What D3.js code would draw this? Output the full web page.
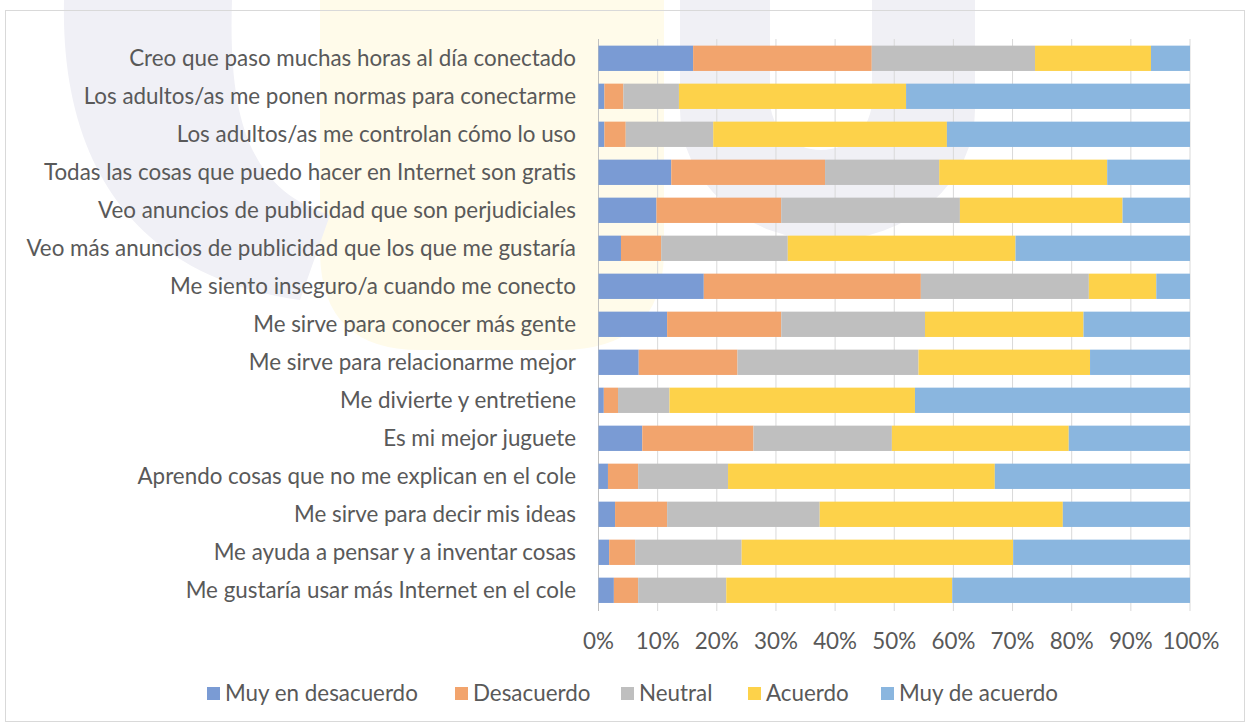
<!DOCTYPE html>
<html><head><meta charset="utf-8">
<script src="https://cdn.jsdelivr.net/npm/d3@7"></script>
<style>
html,body{margin:0;padding:0;background:#fff;}
svg{display:block;font-family:Lato,"Open Sans",sans-serif;}
</style></head>
<body><svg id="chart" width="1250" height="724"></svg>
<script>
const categories = [
  "Creo que paso muchas horas al día conectado",
  "Los adultos/as me ponen normas para conectarme",
  "Los adultos/as me controlan cómo lo uso",
  "Todas las cosas que puedo hacer en Internet son gratis",
  "Veo anuncios de publicidad que son perjudiciales",
  "Veo más anuncios de publicidad que los que me gustaría",
  "Me siento inseguro/a cuando me conecto",
  "Me sirve para conocer más gente",
  "Me sirve para relacionarme mejor",
  "Me divierte y entretiene",
  "Es mi mejor juguete",
  "Aprendo cosas que no me explican en el cole",
  "Me sirve para decir mis ideas",
  "Me ayuda a pensar y a inventar cosas",
  "Me gustaría usar más Internet en el cole"
];
const seriesNames = ["Muy en desacuerdo","Desacuerdo","Neutral","Acuerdo","Muy de acuerdo"];
const muyEnDesacuerdo = [16.0,1.0,1.0,12.3,9.8,3.8,17.8,11.6,6.8,0.9,7.4,1.6,2.8,1.8,2.6];
const desacuerdo      = [30.2,3.2,3.6,26.0,21.1,6.8,36.7,19.3,16.7,2.4,18.8,5.1,8.8,4.4,4.1];
const neutral         = [27.6,9.4,14.8,19.3,30.2,21.4,28.4,24.3,30.6,8.7,23.4,15.2,25.8,18.0,14.9];
const acuerdo         = [19.6,38.4,39.5,28.4,27.5,38.5,11.4,26.8,29.0,41.5,29.9,45.1,41.1,45.9,38.2];
const muyDeAcuerdo    = [6.6,48.0,41.1,14.0,11.4,29.5,5.7,18.0,16.9,46.5,20.5,33.0,21.5,29.9,40.2];
const tickValues = [0,0.1,0.2,0.3,0.4,0.5,0.6,0.7,0.8,0.9,1.0];
const colors = ["#7A9BD4","#F2A46D","#BFBFBF","#FDD24A","#8AB6DF"];

const svg = d3.select("#chart");
const textColor = "#595959";

// faint background watermark (logo behind the chart)
const wm = svg.append("g");
wm.append("path").attr("fill","#FFFBEA")
  .attr("d","M320,0 L664,0 L664,250 Q664,350 560,350 L420,350 Q320,350 320,250 Z");
wm.append("path").attr("fill","#F0F0F6")
  .attr("d","M64,0 L232,0 C228,120 250,190 330,215 L300,300 C150,280 60,180 64,0 Z");
wm.append("path").attr("fill","#F0F0F5").attr("fill-rule","evenodd")
  .attr("d","M680,0 L975,0 L975,110 A147,130 0 0 1 680,110 Z M770,0 L872,0 L872,100 A51,50 0 0 1 770,100 Z");

// outer border
svg.append("rect").attr("x",5.5).attr("y",10.5).attr("width",1239).attr("height",711)
  .attr("fill","none").attr("stroke","#D9D9D9").attr("stroke-width",1);

const series = [muyEnDesacuerdo, desacuerdo, neutral, acuerdo, muyDeAcuerdo];
const rows = categories.map((c,i)=>{
  const o = {cat:c};
  seriesNames.forEach((s,j)=>o[s]=series[j][i]);
  return o;
});
rows.forEach(r=>{const t=d3.sum(seriesNames,s=>r[s]); seriesNames.forEach(s=>r[s]=r[s]/t);});
const stacked = d3.stack().keys(seriesNames)(rows);

const x = d3.scaleLinear().domain([0,1]).range([598.5,1190]);
const y = d3.scaleBand().domain(categories).range([39.3,609.3]).paddingInner(0.334).paddingOuter(0.167);

const g = svg.append("g");
g.selectAll("line.grid").data(tickValues).join("line")
  .attr("x1",d=>x(d)).attr("x2",d=>x(d))
  .attr("y1",39).attr("y2",611)
  .attr("stroke",d=>d===0?"#BFBFBF":"#D9D9D9").attr("stroke-width",1);

stacked.forEach((layer,j)=>{
  g.append("g").selectAll("rect").data(layer).join("rect")
    .attr("x",d=>x(d[0])).attr("width",d=>x(d[1])-x(d[0]))
    .attr("y",d=>y(d.data.cat)).attr("height",y.bandwidth())
    .attr("fill",colors[j]);
});

const fs = 20.5;
const lab = svg.append("g").attr("font-size",fs).attr("fill",textColor).attr("text-anchor","end");
lab.selectAll("text").data(categories).join("text")
  .attr("x",576).attr("y",d=>y(d)+y.bandwidth()/2).attr("dy","0.35em").text(d=>d);
let maxW = 0; lab.selectAll("text").each(function(){maxW=Math.max(maxW,this.getComputedTextLength());});
const scaleF = 550/maxW;
lab.attr("font-size",fs*scaleF);

const xa = svg.append("g").attr("font-size",fs*scaleF).attr("fill",textColor).attr("text-anchor","middle");
xa.selectAll("text").data(tickValues).join("text")
  .attr("x",d=>x(d)+(d===1?1:0)).attr("y",641).attr("dy","0.35em")
  .text(d=>d3.format(".0%")(d));

const legX = [207,455,621,748,881];
const lg = svg.append("g").attr("font-size",fs*scaleF).attr("fill",textColor);
seriesNames.forEach((s,j)=>{
  lg.append("rect").attr("x",legX[j]).attr("y",687).attr("width",13).attr("height",13).attr("fill",colors[j]);
  lg.append("text").attr("x",legX[j]+18).attr("y",693).attr("dy","0.35em").text(s);
});
</script></body></html>
